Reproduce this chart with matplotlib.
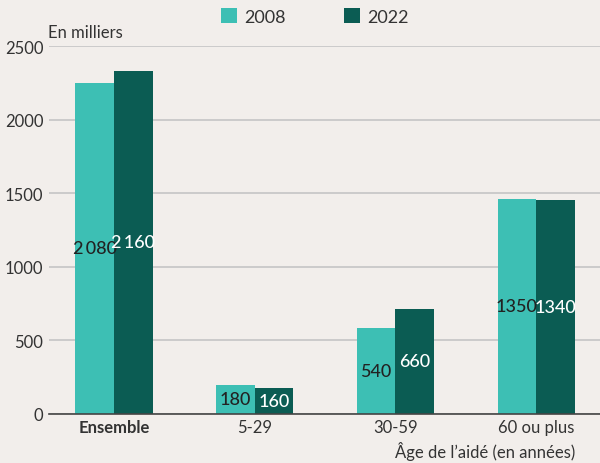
import matplotlib.pyplot as plt
import numpy as np

plt.rcParams['font.family'] = ['Lato', 'DejaVu Sans']

CATEGORIES = ["Ensemble", "5-29", "30-59", "60 ou plus"]
BARS_2008 = [2250, 195, 581, 1463]     # bar heights as drawn
BARS_2022 = [2332, 174, 710, 1450]
LABELS_2008 = ["2\u2009080", "180", "540", "1350"]
LABELS_2022 = ["2\u2009160", "160", "660", "1340"]
YTICKS = [0, 500, 1000, 1500, 2000, 2500]

C08 = "#3dbfb4"
C22 = "#0b5c53"
BG = "#f2eeeb"

fig = plt.figure(figsize=(6, 4.64), dpi=100, facecolor=BG)
ax = fig.add_axes([0.0817, 0.1063, 0.9183, 0.7924], facecolor=BG)

x = np.arange(len(CATEGORIES))
w = 0.274
b1 = ax.bar(x - w/2, BARS_2008, w, color=C08, label="2008", zorder=2)
b2 = ax.bar(x + w/2, BARS_2022, w, color=C22, label="2022", zorder=2)

for rect, lab in zip(b1, LABELS_2008):
    ax.text(rect.get_x() + rect.get_width()/2, rect.get_height()/2, lab,
            ha="center", va="center", color="#222222", fontsize=13,
            fontweight="medium", zorder=3)
for rect, lab in zip(b2, LABELS_2022):
    ax.text(rect.get_x() + rect.get_width()/2, rect.get_height()/2, lab,
            ha="center", va="center", color="white", fontsize=13,
            fontweight="medium", zorder=3)

ax.set_xlim(-0.462, 3.454)
ax.set_ylim(0, 2500)
ax.set_yticks(YTICKS)
ax.set_yticklabels([str(t) for t in YTICKS], fontsize=12, color="#333333")
ax.set_xticks(x)
ax.set_xticklabels(CATEGORIES, fontsize=12, color="#333333")
ax.get_xticklabels()[0].set_fontweight("bold")
ax.tick_params(length=0, pad=4)
ax.grid(axis="y", color="#c8c8c8", linewidth=1.3, zorder=0)
for s in ["top", "right", "left"]:
    ax.spines[s].set_visible(False)
ax.spines["bottom"].set_color("#444444")
ax.spines["bottom"].set_linewidth(1.2)
ax.spines["bottom"].set_zorder(4)

fig.text(48/600, 1 - 33/464, "En milliers", fontsize=12, color="#333333",
         va="center", ha="left")
fig.text(575/600, 1 - 452/464, "\u00c2ge de l\u2019aid\u00e9 (en ann\u00e9es)",
         fontsize=12, color="#333333", va="center", ha="right")

fig.legend(loc="upper center", bbox_to_anchor=(0.525, 1.015), ncol=2, frameon=False,
           fontsize=13, handlelength=0.9, handleheight=0.9, columnspacing=3.2,
           handletextpad=0.4, labelcolor="#333333")

fig.savefig("out.png", dpi=100, facecolor=BG)
